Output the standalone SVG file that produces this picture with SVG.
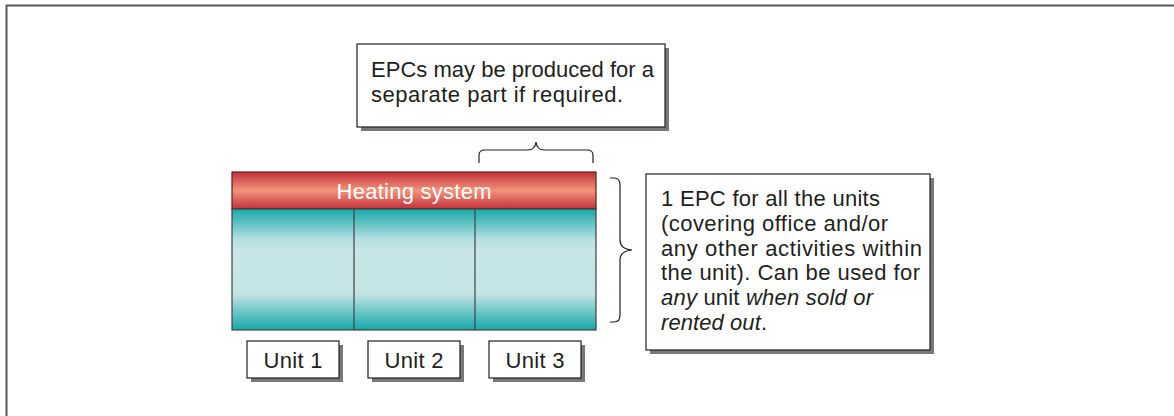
<svg xmlns="http://www.w3.org/2000/svg" width="1174" height="416" viewBox="0 0 1174 416">
<defs>
<linearGradient id="red" x1="0" y1="0" x2="0" y2="1">
<stop offset="0" stop-color="#c4303a"/>
<stop offset="0.5" stop-color="#f2937a"/>
<stop offset="1" stop-color="#c4303a"/>
</linearGradient>
<linearGradient id="teal" x1="0" y1="0" x2="0" y2="1">
<stop offset="0" stop-color="#17a9a9"/>
<stop offset="0.25" stop-color="#b5dfe0"/>
<stop offset="0.35" stop-color="#c8e6e8"/>
<stop offset="0.7" stop-color="#c4e4e6"/>
<stop offset="1" stop-color="#14a8a8"/>
</linearGradient>
</defs>
<style>
text{font-family:"Liberation Sans","Open Sans",sans-serif;fill:#231f20}
.box{fill:#fff;stroke:#231f20;stroke-width:1.2}
.shadow{fill:#77787b}
.brace{fill:none;stroke:#231f20;stroke-width:1.2}
.t{font-size:22px}
.u{font-size:22px;text-anchor:middle}
</style>
<g id="frame"><path d="M6.5 416 V5.5 H1174" fill="none" stroke="#58595b" stroke-width="2"/></g>
<g id="callout-top">
<rect class="shadow" x="361" y="48" width="308" height="83"/>
<rect class="box" x="357" y="44" width="308" height="83"/>
<text class="t" x="371" y="77" textLength="283" lengthAdjust="spacing">EPCs may be produced for a</text>
<text class="t" x="371" y="102" textLength="252" lengthAdjust="spacing">separate part if required.</text>
</g>
<g id="building">
<rect x="232" y="172" width="364" height="37" fill="url(#red)" stroke="#5a1e20" stroke-width="1.2"/>
<text x="414" y="199" font-size="22" text-anchor="middle" textLength="155" lengthAdjust="spacing" style="fill:#fff">Heating system</text>
<rect x="232" y="209" width="364" height="121" fill="url(#teal)" stroke="#414042" stroke-width="1.2"/>
<line x1="354" y1="209" x2="354" y2="330" stroke="#414042" stroke-width="1.2"/>
<line x1="475" y1="209" x2="475" y2="330" stroke="#414042" stroke-width="1.2"/>
</g>
<g id="unit1">
<rect class="shadow" x="251" y="345" width="92" height="37"/>
<rect class="box" x="247" y="341" width="92" height="37"/>
<text class="u" x="293" y="368" textLength="59" lengthAdjust="spacing">Unit 1</text>
</g>
<g id="unit2">
<rect class="shadow" x="372" y="345" width="92" height="37"/>
<rect class="box" x="368" y="341" width="92" height="37"/>
<text class="u" x="414" y="368" textLength="59" lengthAdjust="spacing">Unit 2</text>
</g>
<g id="unit3">
<rect class="shadow" x="493" y="345" width="92" height="37"/>
<rect class="box" x="489" y="341" width="92" height="37"/>
<text class="u" x="535" y="368" textLength="59" lengthAdjust="spacing">Unit 3</text>
</g>
<g id="callout-right">
<rect class="shadow" x="650" y="178" width="284" height="176"/>
<rect class="box" x="646" y="174" width="284" height="176"/>
<text class="t" x="661" y="206" textLength="219" lengthAdjust="spacing">1 EPC for all the units</text>
<text class="t" x="661" y="231" textLength="227" lengthAdjust="spacing">(covering office and/or</text>
<text class="t" x="661" y="256" textLength="261" lengthAdjust="spacing">any other activities within</text>
<text class="t" x="661" y="280" textLength="259" lengthAdjust="spacing">the unit). Can be used for</text>
<text class="t" x="661" y="305" textLength="212" lengthAdjust="spacing"><tspan font-style="italic">any</tspan> unit <tspan font-style="italic">when sold or</tspan></text>
<text class="t" x="661" y="330" textLength="106" lengthAdjust="spacing"><tspan font-style="italic">rented out</tspan>.</text>
</g>
<g id="connectors">
<path class="brace" d="M479 163 V155 Q479 150 485 150 H528 Q535 150 536 142 Q537 150 544 150 H587 Q593 150 593 155 V163"/>
<path class="brace" d="M610 178 H614 Q620 178 620 185 V240 Q620 249 632 250 Q620 251 620 260 V315 Q620 322 614 322 H610"/>
</g>
</svg>
